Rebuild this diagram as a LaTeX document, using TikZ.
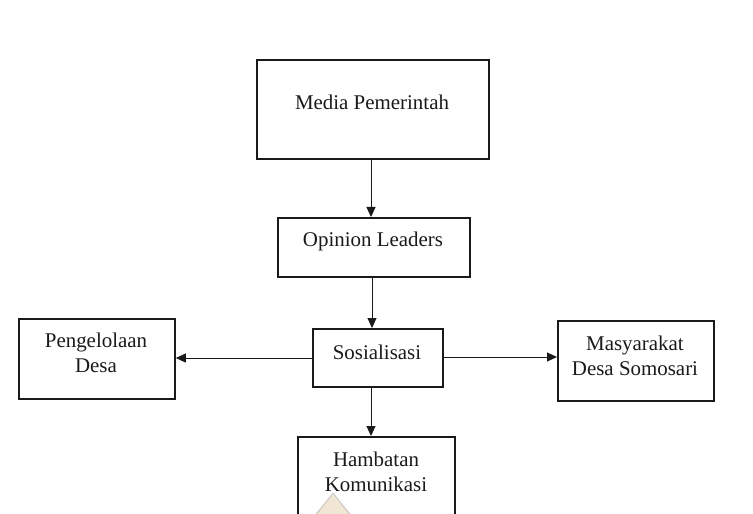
\documentclass[tikz,border=0pt]{standalone}
\usepackage{fontspec}
\setmainfont{Liberation Serif}
\usetikzlibrary{arrows.meta}
\definecolor{ink}{HTML}{1A1A1A}
\definecolor{wm}{HTML}{F1E6D4}
\begin{document}
\begin{tikzpicture}[x=1bp,y=-1bp,
  boxstyle/.style={draw=ink,line width=1.8bp,inner sep=0pt,anchor=north west},
  txt/.style={font=\fontsize{21}{25.5}\selectfont,text=ink,align=center,inner sep=0pt},
  conn/.style={draw=ink,line width=1bp,-{Triangle[length=10bp,width=9bp]}}]
\path[use as bounding box,fill=white] (0,0) rectangle (753,514);
\begin{scope}
\clip (0,0) rectangle (753,514);
% boxes
\node[boxstyle,minimum width=232bp,minimum height=99bp] (media) at (256,59) {};
\node[boxstyle,minimum width=192bp,minimum height=59bp] (opinion) at (277,217) {};
\node[boxstyle,minimum width=130bp,minimum height=58bp] (sos) at (312,328) {};
\node[boxstyle,minimum width=156bp,minimum height=80bp] (peng) at (18,318) {};
\node[boxstyle,minimum width=156bp,minimum height=80bp] (masy) at (557,320) {};
\node[boxstyle,minimum width=157bp,minimum height=100bp] (hamb) at (297,436) {};
% watermark fragment
\fill[wm] (333,493) -- (356,520) -- (310,520) -- cycle;
\draw[gray!45,line width=0.8bp] (312,520) -- (333,493) -- (354,520);
% texts
\node[txt] (tmedia) at (372,102) {Media Pemerintah};
\node[txt] (topinion) at (373,241) {Opinion Leaders};
\node[txt] (tsos) at (377,352) {Sosialisasi};
\node[txt] (tpeng) at (96,353) {Pengelolaan\\Desa};
\node[txt] (tmasy) at (635,356) {Masyarakat\\Desa Somosari};
\node[txt] (thamb) at (376,472) {Hambatan\\Komunikasi};
\end{scope}
% connectors
\coordinate (sosL) at (312,358);
\coordinate (sosR) at (442,357);
\draw[conn] (media.south -| 371,0) -- (opinion.north -| 371,0);
\draw[conn] (opinion.south -| 372,0) -- (sos.north -| 372,0);
\draw[conn] (sosL) -- (sosL -| peng.east);
\draw[conn] (sosR) -- (sosR -| masy.west);
\draw[conn] (sos.south -| 371,0) -- (hamb.north -| 371,0);
\end{tikzpicture}
\end{document}
